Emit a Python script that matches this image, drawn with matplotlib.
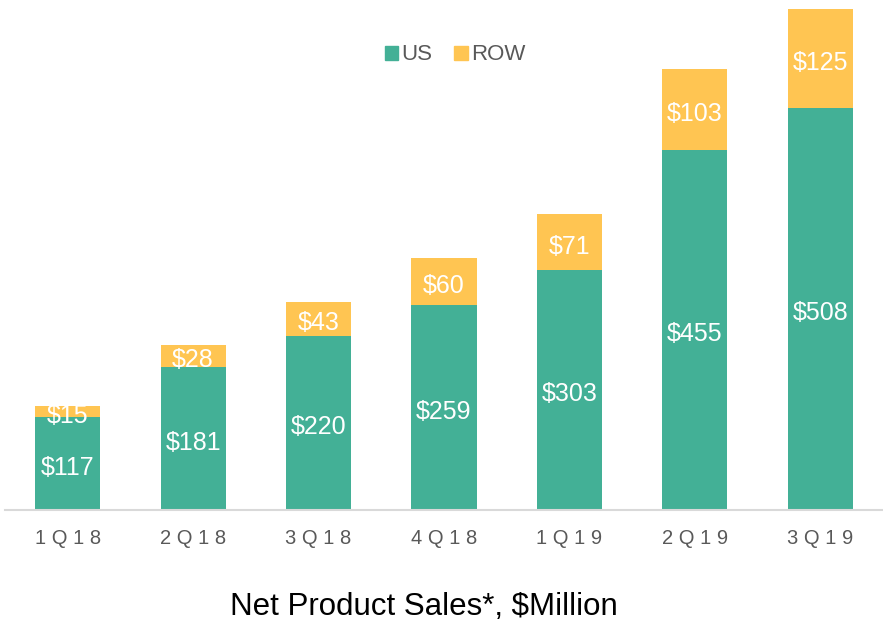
import matplotlib.pyplot as plt
from matplotlib.patches import Patch

quarters = ['1Q18', '2Q18', '3Q18', '4Q18', '1Q19', '2Q19', '3Q19']
us = [117, 181, 220, 259, 303, 455, 508]
row = [15, 28, 43, 60, 71, 103, 125]

green = '#43B096'
yellow = '#FFC552'
fam = ['Liberation Sans', 'DejaVu Sans']

fig = plt.figure(figsize=(8.83, 6.22), dpi=100)
ax = fig.add_axes([5 / 883, 112 / 622, 1 - 5 / 883, 510 / 622])

x = list(range(len(quarters)))
ax.bar(x, us, width=0.52, color=green)
ax.bar(x, row, width=0.52, bottom=us, color=yellow)

# value labels, nudged a bit down like the original
for i in x:
    ax.annotate('$%d' % us[i], (i, us[i] / 2), xytext=(0, -3), textcoords='offset points',
                ha='center', va='center', color='white', fontsize=18, family=fam)
    ax.annotate('$%d' % row[i], (i, us[i] + row[i] / 2), xytext=(0, -3),
                textcoords='offset points', ha='center', va='center',
                color='white', fontsize=18, family=fam)

ax.set_xlim(-0.5, 6.5)
ax.set_ylim(0, 645)
ax.set_yticks([])
for s in ['top', 'right', 'left']:
    ax.spines[s].set_visible(False)
ax.spines['bottom'].set_color('#D9D9D9')
ax.spines['bottom'].set_linewidth(1.5)

# spaced-out tick labels
ax.tick_params(axis='x', length=0, pad=14, labelsize=14.5, labelcolor='#595959')
labels = [' '.join(q) for q in quarters]
ax.set_xticks(x)
ax.set_xticklabels(labels, fontsize=14.5, color='#595959', family=fam)

fig.text(424 / 883, 1 - 607 / 622, 'Net Product Sales*, $Million', ha='center', va='center',
         fontsize=22.5, color='black', family=fam)

handles = [Patch(color=green, label='US'), Patch(color=yellow, label='ROW')]
fig.legend(handles=handles, loc='center', bbox_to_anchor=(455 / 883, 1 - 55 / 622),
           ncol=2, frameon=False, handlelength=0.6, handleheight=0.6,
           handletextpad=0.15, columnspacing=1.0,
           prop={'family': fam, 'size': 16}, labelcolor='#595959')

fig.savefig('out.png', dpi=100)
